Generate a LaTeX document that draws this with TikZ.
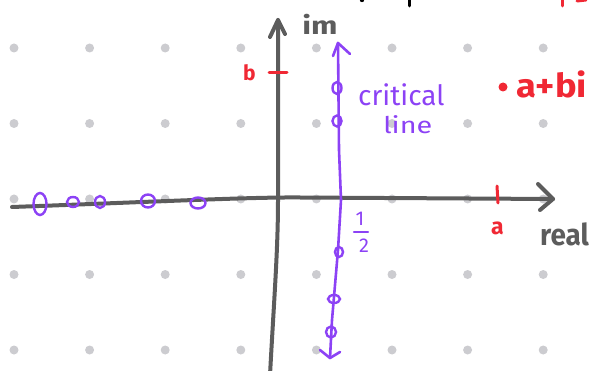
\documentclass[tikz,border=0pt]{standalone}
\usepackage{fontspec}
\setmainfont{Fira Sans}
\definecolor{axgray}{RGB}{92,92,92}
\definecolor{dotgray}{RGB}{204,204,208}
\definecolor{crit}{RGB}{140,66,245}
\definecolor{hred}{RGB}{240,40,52}
\begin{document}
\begin{tikzpicture}[x=1pt,y=-1pt,
  axis/.style={draw=axgray,line width=4pt,line cap=round,line join=round},
  critline/.style={draw=crit,line width=2.6pt,line cap=round,line join=round},
  zero/.style={draw=crit,line width=2.4pt},
  redmark/.style={draw=hred,line width=3pt,line cap=round},
  gdot/.style={fill=dotgray},
  lbl/.style={inner sep=0pt,anchor=base west}]
\useasboundingbox (0,0) rectangle (591,371);
% dot grid
\foreach \i in {0,...,7}{
  \foreach \j in {0,...,4}{
    \fill[gdot] ({14+75.6*\i},{48+75.5*\j}) circle (4.5);
  }
}
% top fragments of cut-off text
\fill[black] (362,0) circle (2.2);
\draw[black,line width=3pt,line cap=round] (409,0) -- (409,6);
\draw[redmark] (562,0) -- (562,6);
\draw[redmark] (577,1) -- (586,0);
% real axis
\coordinate (rl) at (12,207);
\coordinate (rr) at (553,199);
\draw[axis] (rl) .. controls (150,202) and (250,197) .. (300,197.5) -- (rr);
\draw[axis] (538,184) -- (rr) -- (540,210);
% imaginary axis
\coordinate (ib) at (270,375);
\coordinate (it) at (278,20);
\draw[axis] (ib) .. controls (274,300) and (278,250) .. (278,200) -- (it);
\draw[axis] (270,37) -- (it) -- (285,34);
% axis labels
\node[lbl,xscale=1.25,text=axgray,font=\bfseries\fontsize{25}{25}\selectfont] (im) at (302,35) {im};
\node[lbl,xscale=0.93,text=axgray,font=\bfseries\fontsize{30}{30}\selectfont] (real) at (540,245) {real};
% critical line
\coordinate (ct) at (338,43);
\coordinate (cb) at (330,358);
\draw[critline] (ct) -- (339,150) -- (341,200) -- (338,250) -- (332,320) -- (cb);
\draw[critline] (333,56) -- (ct) -- (350,54);
\draw[critline] (320,350) -- (cb) -- (340,352);
% zeros on critical line
\draw[zero] (337,88) ellipse (4.5 and 6);
\draw[zero] (337,121) ellipse (4.5 and 5.5);
\draw[zero] (339,252) ellipse (4 and 5);
\draw[zero] (334,299) ellipse (6 and 4);
\draw[zero] (331,332) ellipse (5 and 5.5);
% trivial zeros
\draw[zero] (40,204) ellipse (6.5 and 11);
\draw[zero] (73,202) ellipse (6 and 5);
\draw[zero] (100,202) ellipse (5 and 6);
\draw[zero] (148,201) ellipse (7 and 6.5);
\draw[zero] (198,203) ellipse (7.5 and 5.5);
% critical line labels
\node[lbl,text=crit,font=\fontsize{28}{28}\selectfont] (critical) at (358,106) {critical};
\node[lbl,xscale=1.25,text=crit,font=\fontsize{23}{23}\selectfont] (line) at (383,134) {line};
\node[inner sep=0pt,text=crit,font=\fontsize{20}{20}\selectfont] (one) at (360,219) {1};
\draw[crit,line width=2.4pt,line cap=round] (354,232) -- (368,232);
\node[inner sep=0pt,text=crit,font=\fontsize{20}{20}\selectfont] (two) at (364,246) {2};
% red marks
\draw[redmark] (497,186) -- (498,203);
\draw[redmark] (269,73) -- (287,73);
\node[lbl,text=hred,font=\bfseries\fontsize{23}{23}\selectfont] (a) at (491,235) {a};
\node[lbl,text=hred,font=\bfseries\fontsize{21}{21}\selectfont] (b) at (243,81) {b};
\fill[hred] (503,87) circle (4.5);
\node[lbl,xscale=1.1,text=hred,font=\bfseries\fontsize{33}{33}\selectfont] (abi) at (516,98) {a+bi};
\end{tikzpicture}
\end{document}
